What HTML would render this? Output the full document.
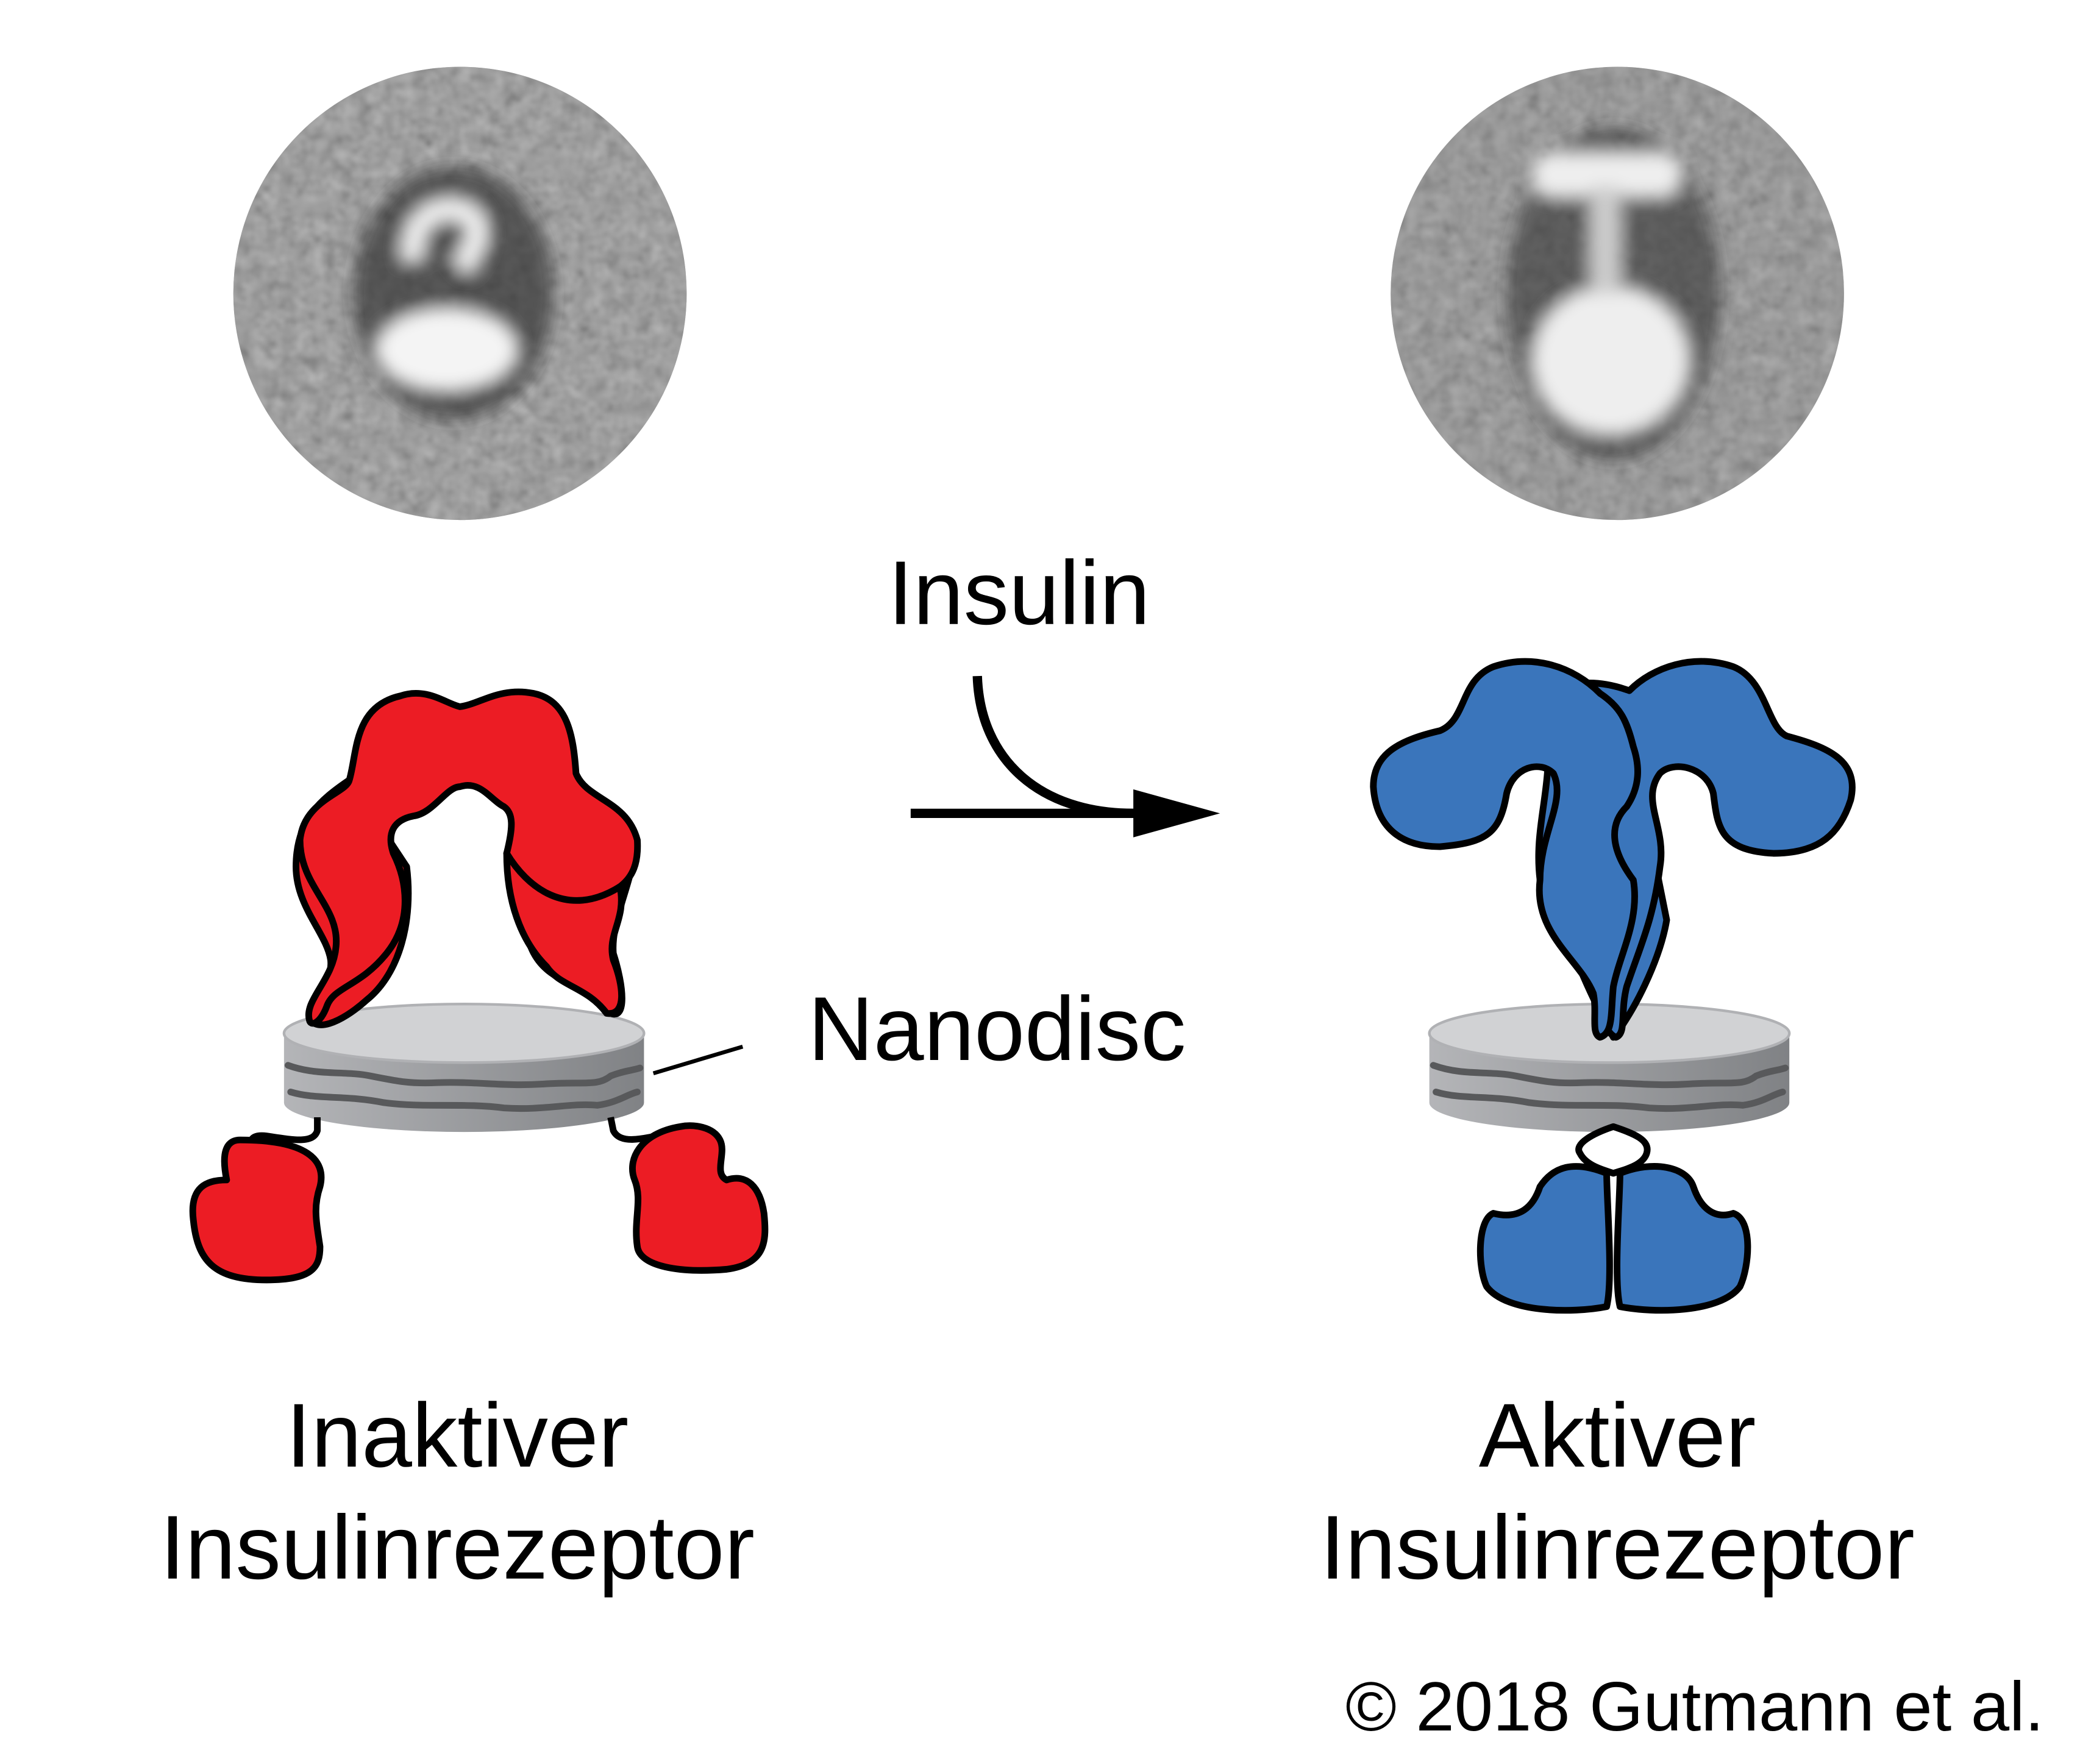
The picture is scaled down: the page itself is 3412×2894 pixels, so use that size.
<!DOCTYPE html>
<html><head><meta charset="utf-8"><style>
html,body{margin:0;padding:0;background:#fff}
svg{display:block}
text{font-family:"Liberation Sans",Arial,sans-serif;fill:#000}
</style></head><body>
<svg width="3412" height="2894" viewBox="0 0 1560 1323" xmlns="http://www.w3.org/2000/svg">
<defs>
<filter id="noise" x="0" y="0" width="100%" height="100%">
<feTurbulence type="fractalNoise" baseFrequency="0.09" numOctaves="2" seed="3"/>
<feColorMatrix type="matrix" values="0.33 0.33 0.33 0 0  0.33 0.33 0.33 0 0  0.33 0.33 0.33 0 0  0 0 0 0 1"/>
</filter>
<filter id="blur"><feGaussianBlur stdDeviation="6"/></filter>
<clipPath id="c1"><circle cx="345" cy="220" r="170"/></clipPath>
<clipPath id="c2"><circle cx="1213" cy="220" r="170"/></clipPath>
<linearGradient id="dg" x1="0" x2="1"><stop offset="0" stop-color="#b4b5b8"/><stop offset="1" stop-color="#808285"/></linearGradient>
<g id="disc">
<path d="M-135,18 L-135,70 A135,22 0 0 0 135,70 L135,18 Z" fill="url(#dg)"/>
<ellipse cx="0" cy="18" rx="135" ry="22" fill="#d1d2d4" stroke="#b0b1b4" stroke-width="2"/>
<path d="M-132,42 C-110,50 -90,46 -70,50 C-50,54 -40,56 -20,55 C10,54 30,58 60,56 C90,54 100,58 110,50 C120,46 126,46 132,44" fill="none" stroke="#58595b" stroke-width="5" stroke-linecap="round"/>
<path d="M-130,62 C-110,68 -90,64 -60,70 C-30,74 0,70 30,74 C60,76 80,70 100,72 C115,70 122,64 130,62" fill="none" stroke="#58595b" stroke-width="5" stroke-linecap="round"/>
</g>
</defs>

<g clip-path="url(#c1)">
<rect x="170" y="45" width="350" height="350" fill="#7a7a7a"/>
<rect x="170" y="45" width="350" height="350" filter="url(#noise)" opacity="0.55"/>
<g filter="url(#blur)">
<ellipse cx="340" cy="220" rx="75" ry="95" fill="#333" opacity="0.7"/>
<ellipse cx="335" cy="262" rx="52" ry="30" fill="#f4f4f4"/>
<path d="M310,195 C305,165 330,150 350,160 C365,170 355,190 345,200" fill="none" stroke="#eee" stroke-width="16"/>
</g>
</g>
<g clip-path="url(#c2)">
<rect x="1040" y="45" width="350" height="350" fill="#7c7c7c"/>
<rect x="1040" y="45" width="350" height="350" filter="url(#noise)" opacity="0.45"/>
<g filter="url(#blur)">
<ellipse cx="1210" cy="220" rx="80" ry="125" fill="#333" opacity="0.6"/>
<ellipse cx="1208" cy="270" rx="58" ry="55" fill="#eee"/>
<rect x="1150" y="115" width="110" height="32" rx="14" fill="#eee"/>
<rect x="1193" y="140" width="22" height="80" fill="#ccc"/>
</g>
</g>

<text x="666" y="468" font-size="68">Insulin</text>
<path d="M733,507 C735,570 780,610 850,610" fill="none" stroke="#000" stroke-width="7"/>
<line x1="683" y1="610" x2="860" y2="610" stroke="#000" stroke-width="7"/>
<polygon points="850,592 915,610 850,628" fill="#000"/>
<text x="606" y="795" font-size="68">Nanodisc</text>
<line x1="490" y1="805" x2="557" y2="785" stroke="#000" stroke-width="3"/>

<use href="#disc" x="348" y="757"/>
<g fill="#ec1c24" stroke="#000" stroke-width="5" stroke-linejoin="round">
<path d="M262,585 C240,600 222,615 222,650 C222,680 245,700 248,720 C250,740 230,750 232,762 C235,775 255,768 275,750 C300,730 310,690 305,650 Z"/>
<path d="M385,600 C400,640 392,700 398,710 C410,740 440,735 458,760 C470,765 468,740 460,715 C458,690 475,660 475,640 C470,610 420,600 385,600 Z"/>
<path d="M232,765 C228,750 250,735 252,710 C255,680 225,665 225,630 C228,600 260,595 262,585 C268,565 265,530 300,522 C320,515 335,528 345,530 C360,528 375,515 400,520 C425,525 430,550 432,580 C440,600 470,600 478,630 C480,665 460,672 420,680 C395,678 385,660 380,640 C385,620 385,610 378,605 C368,600 360,585 345,590 C335,590 325,610 310,612 C295,615 290,625 295,640 C305,660 310,690 290,715 C270,740 250,740 245,755 C240,768 233,770 232,765 Z"/>
<path d="M380,640 C395,665 425,690 465,665 C470,690 455,700 460,720 C468,740 470,762 455,760 C440,740 420,740 410,725 C390,705 380,675 380,640 Z"/>
<path d="M238,838 L238,848 C235,858 220,855 200,852 C185,850 188,860 188,860" fill="none"/>
<path d="M180,855 C165,855 168,875 170,885 C155,885 142,890 145,915 C148,945 160,960 200,960 C235,960 240,950 240,935 C237,915 235,905 240,890 C245,870 230,855 180,855 Z"/>
<path d="M458,838 L460,848 C465,858 480,855 500,850 C515,845 520,850 520,850" fill="none"/>
<path d="M510,845 C480,850 470,870 476,885 C482,900 475,915 478,935 C480,950 510,955 545,952 C575,948 575,930 573,910 C570,890 560,880 545,885 C535,880 545,865 540,855 C535,845 520,843 510,845 Z"/>
</g>

<use href="#disc" x="1207" y="757"/>
<g fill="#3a75bb" stroke="#000" stroke-width="5" stroke-linejoin="round">
<path d="M1210,845 C1195,850 1180,858 1185,865 C1190,875 1205,878 1210,880 C1215,878 1232,875 1235,865 C1238,855 1225,850 1210,845 Z" fill="#fff"/>
<path d="M1205,880 C1180,870 1165,875 1155,890 C1150,905 1140,915 1120,910 C1108,915 1108,950 1115,965 C1130,985 1180,985 1205,980 C1210,960 1205,900 1205,880 Z"/>
<path d="M1215,880 C1240,870 1265,875 1270,890 C1275,905 1285,915 1300,910 C1315,915 1312,950 1305,965 C1290,985 1240,985 1215,980 C1210,960 1215,900 1215,880 Z"/>
<path d="M1175,700 C1185,730 1200,760 1210,778 C1225,760 1245,720 1250,690 L1230,590 L1180,590 Z"/>
<path d="M1160,520 C1180,510 1200,510 1222,518 C1240,500 1270,490 1300,500 C1325,510 1325,545 1340,552 C1370,560 1395,570 1388,600 C1380,625 1365,640 1330,640 C1290,638 1288,620 1285,595 C1280,575 1255,570 1245,580 C1230,600 1250,620 1245,650 C1240,690 1230,710 1220,740 C1215,760 1220,775 1212,778 C1205,775 1200,765 1205,740 C1200,710 1160,700 1155,660 C1150,620 1165,590 1160,550 Z"/>
<path d="M1200,520 C1180,500 1150,490 1120,500 C1095,510 1100,540 1080,548 C1050,555 1030,565 1030,590 C1032,620 1050,635 1080,635 C1115,632 1125,625 1130,595 C1135,575 1155,570 1165,580 C1175,600 1155,625 1155,660 C1150,700 1185,720 1195,745 C1198,760 1193,775 1200,778 C1210,775 1208,760 1210,740 C1215,715 1230,690 1225,660 C1210,640 1205,620 1220,605 C1230,590 1230,575 1225,560 C1220,540 1215,530 1200,520 Z"/>
</g>

<g font-size="68" text-anchor="middle">
<text x="343" y="1100">Inaktiver</text>
<text x="343" y="1184">Insulinrezeptor</text>
<text x="1213" y="1100">Aktiver</text>
<text x="1213" y="1184">Insulinrezeptor</text>
</g>
<text x="1533" y="1298" font-size="52" text-anchor="end">© 2018 Gutmann et al.</text>
</svg>
</body></html>
